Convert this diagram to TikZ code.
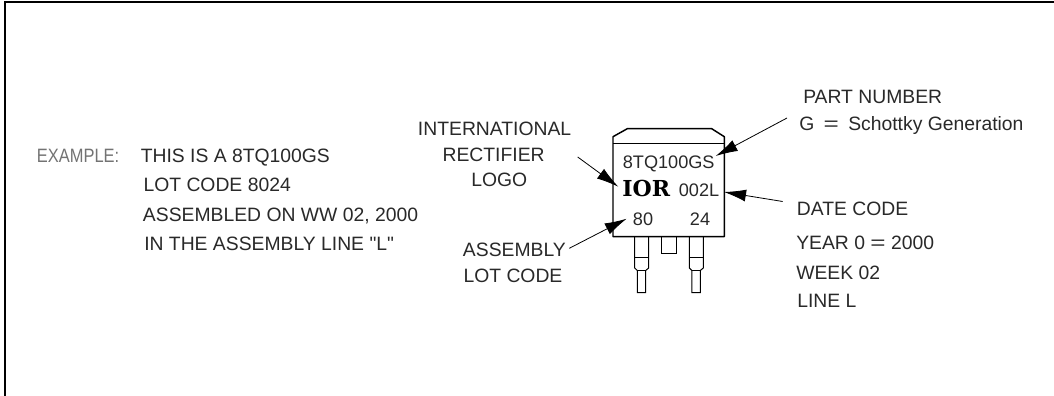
\documentclass[tikz,border=0pt]{standalone}
\usepackage{fontspec}
\newfontfamily\lblfont{Liberation Sans}
\newfontfamily\logofont{DejaVu Serif Bold}
\usetikzlibrary{arrows.meta}
\definecolor{ink}{gray}{0.16}
\newcommand{\wideeq}{\scalebox{1.35}[1]{=}}
\tikzset{
  lbl/.style={font=\lblfont\fontsize{14.5pt}{16pt}\selectfont,text=ink,inner sep=0pt,anchor=base west},
  mid/.style={lbl,anchor=base},
  part/.style={mid,font=\lblfont\fontsize{13.6pt}{16pt}\selectfont},
  body/.style={draw=black,line width=1.1pt,line join=round},
  thin part/.style={draw=black,line width=0.75pt},
  pointer/.style={draw=black,line width=0.6pt,-{Latex[length=16.5pt,width=9pt]}},
}
\begin{document}
\begin{tikzpicture}[x=0.75pt,y=-0.75pt]
\useasboundingbox (0,0) rectangle (1054,396);
\fill[white] (0,0) rectangle (1054,396);
\draw[line width=1.5pt] (5,396) -- (5,1.7) -- (1054,1.7);
% package
\draw[body] (613,236.7) -- (613,136.7) -- (627.3,128.7) -- (711.7,128.7) -- (724.3,136.7) -- (724.3,236.7) -- cycle;
\draw[thin part] (613,143.3) -- (724.3,143.3);
\draw[thin part] (661.7,236.7) -- (661.7,253.3) -- (676,253.3) -- (676,236.7);
\foreach \x in {634.7,689.3}{
  \draw[thin part] (\x,236.7) -- (\x,268) -- (\x+2.6,270.5) -- (\x+2.6,292.7) -- (\x+11,292.7) -- (\x+11,270.5) -- (\x+14,268) -- (\x+14,236.7);
  \draw[thin part] (\x,257.3) -- (\x+14,257.3);
  \draw[thin part] (\x+2.6,270.5) -- (\x+11,270.5);
}
% texts on the package
\node[part] (pn) at (668.7,168) {8TQ100GS};
\node[mid,font=\logofont\fontsize{16.5pt}{18pt}\selectfont,text=black] (logo) at (646.3,196.7) {IOR};
\node[part] (dc) at (699,196.7) {002L};
\node[part] (lot) at (643,225) {80};
\node[part] (wk) at (700,225) {24};
% left text
\node[lbl,text=black!55] (ex) at (36.7,162.3) {\scalebox{0.85}[1]{EXAMPLE:}};
\node[lbl] (l1) at (140.5,162.3) {THIS IS A 8TQ100GS};
\node[lbl] (l2) at (143.3,191.7) {LOT CODE 8024};
\node[lbl] (l3) at (142.7,221) {ASSEMBLED ON WW 02, 2000};
\node[lbl] (l4) at (144,250) {IN THE ASSEMBLY LINE "L"};
% labels
\node[lbl] (pa) at (803,103) {PART NUMBER};
\node[lbl] (pb) at (799,130) {G\hspace{3pt} \wideeq\ \hspace{3pt}Schottky Generation};
\node[lbl] (ia) at (417.7,135.7) {INTERNATIONAL};
\node[lbl] (ib) at (442.3,161) {RECTIFIER};
\node[lbl] (ic) at (471,186.7) {LOGO};
\node[lbl] (aa) at (462.7,256.7) {ASSEMBLY};
\node[lbl] (ab) at (463.3,282.3) {LOT CODE};
\node[lbl] (da) at (796.7,215.7) {DATE CODE};
\node[lbl] (db) at (796,249.3) {YEAR 0 \wideeq\ 2000};
\node[lbl] (dc2) at (796,279.3) {WEEK 02};
\node[lbl] (dd) at (797,307.3) {LINE L};
% pointers
\coordinate (p1s) at (787,118); \coordinate (p1e) at (715.7,156);
\coordinate (p2s) at (577.7,157);   \coordinate (p2e) at (618.3,186.7);
\coordinate (p3s) at (782.7,201.5);   \coordinate (p3e) at (724,192);
\coordinate (p4s) at (569.3,248.3); \coordinate (p4e) at (626.7,218.7);
\draw[pointer] (p1s) -- (p1e);
\draw[pointer] (p2s) -- (p2e);
\draw[pointer] (p3s) -- (p3e);
\draw[pointer] (p4s) -- (p4e);
\end{tikzpicture}
\end{document}
